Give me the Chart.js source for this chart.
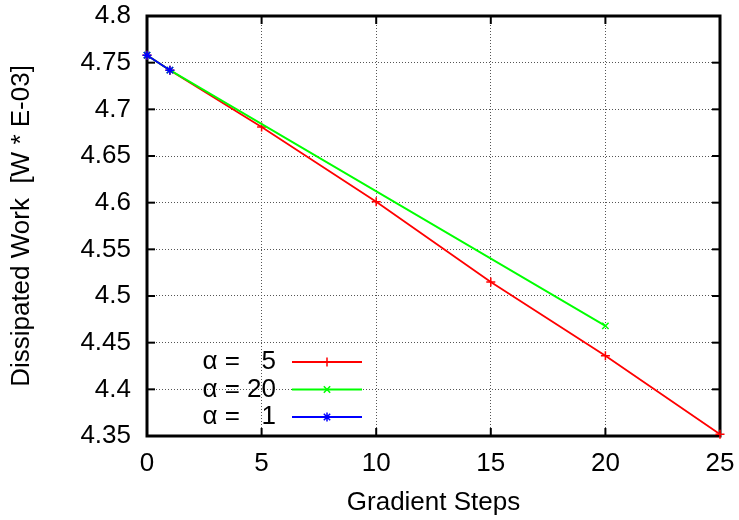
<!DOCTYPE html>
<html>
<head>
<meta charset="utf-8">
<script src="https://cdn.jsdelivr.net/npm/chart.js@4"></script>
<style>
html, body { margin: 0; background: #fff; }
</style>
</head>
<body>
<canvas id="c" width="739" height="520"></canvas>
<script>
// ═══ DATA ═══
const steps5  = [0, 1, 5, 10, 15, 20, 25];
const work5   = [4.758, 4.742, 4.681, 4.601, 4.515, 4.436, 4.352];
const steps20 = [0, 1, 20];
const work20  = [4.758, 4.742, 4.468];
const steps1  = [0, 1];
const work1   = [4.758, 4.742];
const legendLabels = ['α =   5', 'α = 20', 'α =   1'];
const xTitle = 'Gradient Steps';
const yTitle = 'Dissipated Work  [W * E-03]';

const FONT = '"Liberation Sans", Arial, sans-serif';
const FS = 26;
const toXY = (xs, ys) => xs.map((x, i) => ({ x, y: ys[i] }));

function series(label, xs, ys, color, style, order) {
    return {
        label, data: toXY(xs, ys), borderColor: color, backgroundColor: color,
        borderWidth: 1.8, pointStyle: style, pointRadius: 4.5, pointBorderWidth: 1.5,
        pointBorderColor: color, pointHoverRadius: 4.5, order, clip: false, tension: 0
    };
}

// gnuplot style frame with inward ticks on all four sides
const frame = {
    id: 'frame',
    beforeDatasetsDraw(chart) {
        const { ctx, chartArea: a, scales: { x, y } } = chart;
        const line = (x1, y1, x2, y2) => { ctx.beginPath(); ctx.moveTo(x1, y1); ctx.lineTo(x2, y2); ctx.stroke(); };
        ctx.save();
        ctx.strokeStyle = '#000';
        ctx.lineWidth = 2;
        x.ticks.forEach(t => { const px = x.getPixelForValue(t.value); line(px, a.bottom, px, a.bottom - 8); line(px, a.top, px, a.top + 8); });
        y.ticks.forEach(t => { const py = y.getPixelForValue(t.value); line(a.left, py, a.left + 8, py); line(a.right, py, a.right - 8, py); });
        ctx.lineWidth = 3;
        ctx.strokeRect(a.left, a.top, a.right - a.left, a.bottom - a.top);
        ctx.restore();
    }
};

// key: text right aligned, sample line with marker on the right
const gnuKey = {
    id: 'gnuKey',
    afterDatasetsDraw(chart) {
        const ctx = chart.ctx;
        ctx.save();
        ctx.font = FS + 'px ' + FONT;
        ctx.textAlign = 'right';
        ctx.textBaseline = 'middle';
        chart.data.datasets.forEach((ds, i) => {
            const yy = 362 + i * 27.5;
            ctx.fillStyle = '#000';
            ctx.fillText(legendLabels[i], 276, yy);
            ctx.strokeStyle = ds.borderColor;
            ctx.fillStyle = ds.borderColor;
            ctx.lineWidth = ds.borderWidth;
            ctx.beginPath(); ctx.moveTo(292, yy); ctx.lineTo(362, yy); ctx.stroke();
            ctx.lineWidth = ds.pointBorderWidth;
            Chart.helpers.drawPoint(ctx, { pointStyle: ds.pointStyle, radius: ds.pointRadius, borderWidth: ds.pointBorderWidth, rotation: 0 }, 327, yy);
        });
        ctx.restore();
    }
};

new Chart(document.getElementById('c'), {
    type: 'line',
    data: {
        datasets: [
            series(legendLabels[0], steps5, work5, '#ff0000', 'cross', 2),
            series(legendLabels[1], steps20, work20, '#00ff00', 'crossRot', 1),
            series(legendLabels[2], steps1, work1, '#0000ff', 'star', 0)
        ]
    },
    options: {
        responsive: false,
        animation: false,
        devicePixelRatio: 1,
        layout: { padding: { top: 16, right: 19, left: 0, bottom: 0 } },
        plugins: { legend: { display: false }, tooltip: { enabled: false } },
        scales: {
            x: {
                type: 'linear', min: 0, max: 25,
                afterFit: s => { s.height = 84; s.paddingLeft = 0; s.paddingRight = 0; },
                ticks: { stepSize: 5, padding: 12, color: '#000', font: { family: FONT, size: FS } },
                grid: { color: '#555', lineWidth: 1, drawTicks: false },
                border: { display: false, dash: [1, 2] },
                title: { display: true, text: xTitle, color: '#000', font: { family: FONT, size: FS }, padding: { top: 0, bottom: 1.5 } }
            },
            y: {
                type: 'linear', min: 4.35, max: 4.8,
                afterFit: s => { s.width = 147; s.paddingTop = 0; s.paddingBottom = 0; },
                ticks: { stepSize: 0.05, padding: 16, color: '#000', font: { family: FONT, size: FS },
                         callback: v => String(parseFloat(v.toFixed(2))) },
                grid: { color: '#555', lineWidth: 1, drawTicks: false },
                border: { display: false, dash: [1, 2] },
                title: { display: true, text: yTitle, color: '#000', font: { family: FONT, size: FS }, padding: { top: 6, bottom: 0 } }
            }
        }
    },
    plugins: [frame, gnuKey]
});
</script>
</body>
</html>
